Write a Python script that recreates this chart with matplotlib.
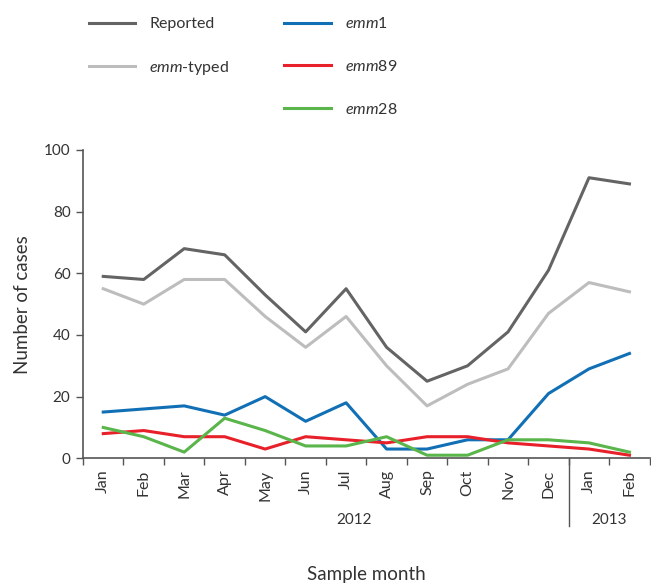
import matplotlib
matplotlib.use("Agg")
import matplotlib.pyplot as plt
from matplotlib.lines import Line2D
import matplotlib.transforms as mtransforms

plt.rcParams['font.family'] = 'Lato'
plt.rcParams['mathtext.fontset'] = 'custom'
plt.rcParams['mathtext.it'] = 'Lato:italic'
plt.rcParams['mathtext.rm'] = 'Lato'

months = ["Jan", "Feb", "Mar", "Apr", "May", "Jun", "Jul", "Aug", "Sep", "Oct", "Nov", "Dec", "Jan", "Feb"]
reported = [59, 58, 68, 66, 53, 41, 55, 36, 25, 30, 41, 61, 91, 89]
emm_typed = [55, 50, 58, 58, 46, 36, 46, 30, 17, 24, 29, 47, 57, 54]
emm1 = [15, 16, 17, 14, 20, 12, 18, 3, 3, 6, 6, 21, 29, 34]
emm89 = [8, 9, 7, 7, 3, 7, 6, 5, 7, 7, 5, 4, 3, 1]
emm28 = [10, 7, 2, 13, 9, 4, 4, 7, 1, 1, 6, 6, 5, 2]

series = [
    (reported, "Reported", "#646464"),
    (emm_typed, r"$\mathit{emm}$-typed", "#bdbdbd"),
    (emm1, r"$\mathit{emm}$1", "#1170b5"),
    (emm89, r"$\mathit{emm}$89", "#e8202a"),
    (emm28, r"$\mathit{emm}$28", "#5ab54a"),
]

fig = plt.figure(figsize=(6.51, 5.85), dpi=100)
ax = fig.add_axes([0.1275, 0.2166, 0.8705, 0.527])

x = [i + 0.5 for i in range(len(months))]
handles = []
for vals, label, color in series:
    h, = ax.plot(x, vals, color=color, lw=2.2, label=label)
    handles.append(h)

ax.set_xlim(0, len(months))
ax.set_ylim(0, 100)
ax.set_yticks(range(0, 101, 20))

ax.set_xticks(range(len(months) + 1))
ax.set_xticklabels([])
ax.set_xticks(x, minor=True)
ax.set_xticklabels(months, minor=True, rotation=90, fontsize=11.5, color="#333333")
ax.tick_params(axis="x", which="major", length=5, width=1, color="#555555", direction="out")
ax.tick_params(axis="x", which="minor", length=0, pad=8)
ax.tick_params(axis="y", length=5, width=1, color="#555555", labelsize=11, labelcolor="#333333", pad=4)

for side in ["top", "right"]:
    ax.spines[side].set_visible(False)
for side in ["left", "bottom"]:
    ax.spines[side].set_color("#555555")
    ax.spines[side].set_linewidth(1.2)

# year separator and labels
ax.axvline(12, ymin=-0.22, ymax=0, color="#555555", lw=1, clip_on=False)
trans = mtransforms.blended_transform_factory(ax.transData, ax.transAxes)
ax.text(6.7, -0.2, "2012", transform=trans, ha="center", va="center", fontsize=11, color="#333333")
ax.text(13, -0.2, "2013", transform=trans, ha="center", va="center", fontsize=11, color="#333333")

ax.set_ylabel("Number of cases", fontsize=13.5, color="#333333", labelpad=9)
ax.set_xlabel("Sample month", fontsize=13.5, color="#333333", labelpad=47)

blank = Line2D([], [], color="none")
leg_handles = [handles[0], handles[1], blank, handles[2], handles[3], handles[4]]
leg_labels = ["Reported", r"$\mathit{emm}$-typed", "", r"$\mathit{emm}$1", r"$\mathit{emm}$89", r"$\mathit{emm}$28"]
fig.legend(leg_handles, leg_labels, loc="upper left", bbox_to_anchor=(0.114, 0.997),
           ncol=2, frameon=False, fontsize=11.5, handlelength=2.9, handletextpad=0.9,
           columnspacing=3.45, labelspacing=1.75, labelcolor="#333333")

fig.savefig("out.png", dpi=100)
